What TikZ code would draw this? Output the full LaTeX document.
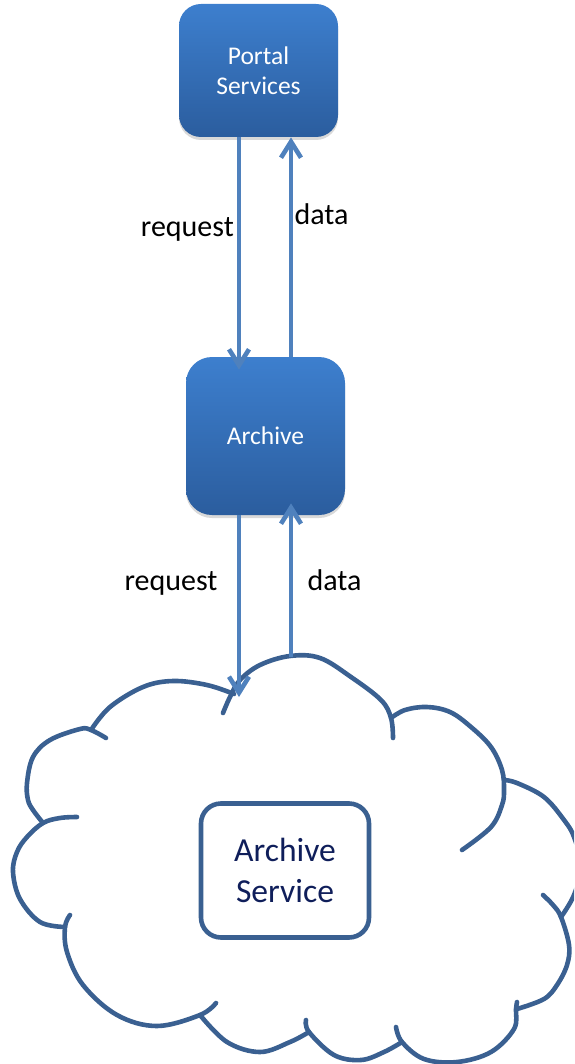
\documentclass[tikz,border=0pt]{standalone}
\usepackage{fontspec}
\setmainfont{Carlito}
\usepackage{xcolor}
\usepackage{tikz}
\usetikzlibrary{arrows.meta}
\usetikzlibrary{shadows}
\definecolor{boxtop}{RGB}{61,127,206}
\definecolor{boxbot}{RGB}{43,93,158}
\definecolor{flowblue}{RGB}{79,129,189}
\definecolor{cloudblue}{RGB}{58,96,145}
\definecolor{svcnavy}{RGB}{15,30,90}
\tikzset{
	bluebox/.style={rounded corners=11pt,top color=boxtop,bottom color=boxbot,text=white,align=center,
		font=\fontsize{12.75}{15}\selectfont,drop shadow={shadow xshift=0pt,shadow yshift=-1.5pt,opacity=0.3}},
	flow/.style={line width=2.3pt,flowblue,-{Straight Barb[length=8pt,width=10pt]}},
	lbl/.style={anchor=base,inner sep=0pt,font=\fontsize{15}{18}\selectfont},
	lobe/.style={line width=2.3pt,cloudblue,line cap=round,line join=round}
}
\begin{document}
\begin{tikzpicture}[x=0.5pt,y=-0.5pt]
	\useasboundingbox (0,0) rectangle (574,1064);
	\clip (0,0) rectangle (574,1064);
		\node[bluebox,minimum width=79.5pt,minimum height=66.5pt] (portal) at (258.5,70.5) {Portal\\Services};
		\node[bluebox,rounded corners=13pt,minimum width=79.5pt,minimum height=79pt] (archive) at (265.5,436) {Archive};
		\coordinate (reqx) at (239,0);
		\coordinate (datx) at (291,0);
		\coordinate (cloudin) at (239,697);
		\coordinate (cloudout) at (291,657);
		\draw[lobe] plot[smooth,tension=0.6] coordinates {(91,730) (110,707) (143,687) (173,681) (207,685) (234,694)};
		\draw[lobe] plot[smooth,tension=0.6] coordinates {(223,713) (230,697) (240,680) (260,665) (290,656) (320,658) (351,677) (381,700) (391,718) (393,738)};
		\draw[lobe] plot[smooth,tension=0.6] coordinates {(391,718) (405,710) (427,707) (450,712) (471,727) (491,747) (502,770) (504,790) (502,805) (491,827) (462,850)};
		\draw[lobe] plot[smooth,tension=0.6] coordinates {(504,780) (517,783) (544,797) (564,820) (574,837) (581,866) (574,895) (561,917)};
		\draw[lobe] plot[smooth,tension=0.6] coordinates {(543,895) (553,905) (561,917) (569,945) (567,965) (557,985) (544,999) (517,1009)};
		\draw[lobe] plot[smooth,tension=0.6] coordinates {(517,1002) (516,1009) (514,1029) (491,1052) (457,1062) (424,1059) (402,1042) (396,1027)};
		\draw[lobe] plot[smooth,tension=0.6] coordinates {(402,1042) (384,1052) (361,1060) (334,1055) (309,1032) (306,1020)};
		\draw[lobe] plot[smooth,tension=0.6] coordinates {(309,1032) (290,1042) (260,1052) (227,1042) (200,1015)};
		\draw[lobe] plot[smooth,tension=0.6] coordinates {(216,1003) (200,1015) (157,1026) (117,1015) (83,985) (67,952) (65,927) (70,915)};
		\draw[lobe] plot[smooth,tension=0.6] coordinates {(77,817) (60,818) (43,823) (27,837) (17,852) (13,872) (20,899) (40,922) (65,927)};
		\draw[lobe] plot[smooth,tension=0.6] coordinates {(43,823) (33,810) (28,800) (27,783) (33,757) (50,740) (80,729) (91,730) (106,738)};
		\node[draw=cloudblue,line width=2.3pt,rounded corners=10pt,minimum width=84pt,minimum height=67pt,align=center,
			text=svcnavy,font=\fontsize{16.8}{20.5}\selectfont] (svc) at (285,870.5) {Archive\\Service};
		\draw[flow,shorten >=-6.5pt] (portal.south -| reqx) -- (archive.north -| reqx);
		\draw[flow] (archive.north -| datx) -- (portal.south -| datx);
		\draw[flow] (archive.south -| reqx) -- (cloudin);
		\draw[flow,shorten >=-6pt] (cloudout) -- (archive.south -| datx);
		\node[lbl] (req1) at (187.4,236.7) {request};
		\node[lbl] (dat1) at (321.5,225) {data};
		\node[lbl] (req2) at (171,590) {request};
		\node[lbl] (dat2) at (334.5,590) {data};
\end{tikzpicture}
\end{document}
